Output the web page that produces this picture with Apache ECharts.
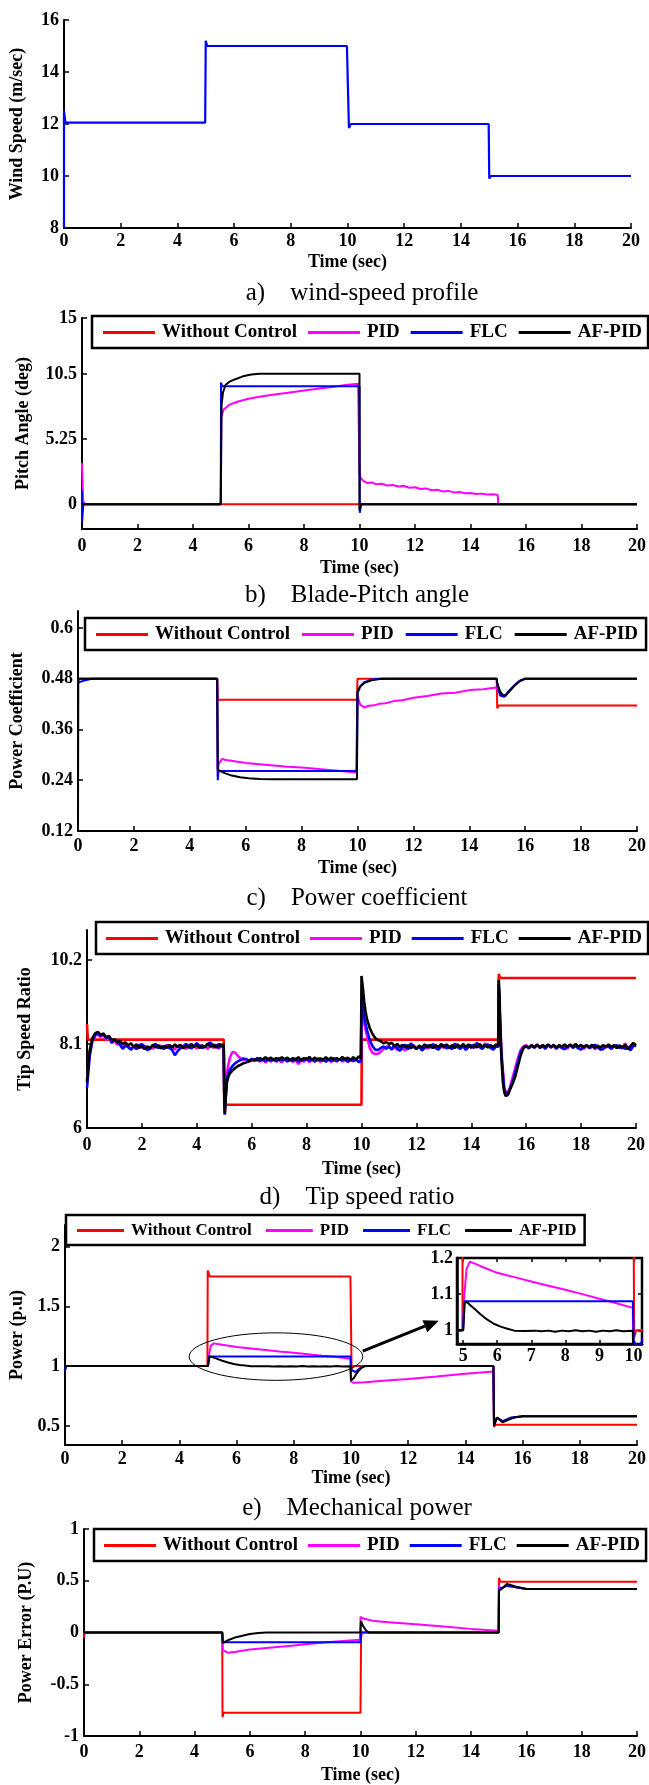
<!DOCTYPE html>
<html><head><meta charset="utf-8">
<script src="https://cdn.jsdelivr.net/npm/echarts@6/dist/echarts.min.js"></script>
<style>html,body{margin:0;padding:0;background:#fff}#c{width:649px;height:1785px}</style>
</head><body><div id="c"></div>
<script>
// ---------- DATA ----------
const seriesNames = ['Without Control', 'PID', 'FLC', 'AF-PID'];
const xTicks = [0, 2, 4, 6, 8, 10, 12, 14, 16, 18, 20];

// a) wind speed profile
const windTicks = [8, 10, 12, 14, 16];
const windSpeed = [[0,8],[0,12.5],[0.05,12.05],[4.98,12.05],[5,15.2],[5.05,15],[9.98,15],[10.05,11.85],[10.12,12],[14.98,12],[15,9.9],[15.05,10],[20,10]];

// b) pitch angle
const pitchTicks = [0, 5.25, 10.5, 15];
const pitchWoc = [[0,0],[20,0]];
const pitchPid = [[0,3.3],[0.04,0.3],[0.1,0],[5,0],[5.02,7.0],[5.1,7.6],[5.3,8.0],[5.6,8.25],[6,8.5],[6.5,8.7],[7,8.85],[7.5,9.0],[8,9.15],[8.5,9.3],[9,9.45],[9.5,9.6],[9.95,9.7],[10,2.4],[10.05,2.1],[10.15,1.85],[10.3,1.7],[10.45,1.75],[10.6,1.6],[10.8,1.65],[11,1.5],[11.2,1.55],[11.4,1.42],[11.6,1.46],[11.8,1.32],[12,1.36],[12.2,1.22],[12.4,1.27],[12.6,1.12],[12.8,1.16],[13,1.03],[13.2,1.07],[13.4,0.95],[13.6,0.98],[13.8,0.88],[14,0.9],[14.2,0.82],[14.4,0.85],[14.6,0.78],[14.8,0.8],[14.98,0.75],[15,0],[20,0]];
const pitchFlc = [[0,1.1],[0,-1.5],[0.05,0],[5,0],[5.01,9.8],[5.05,9.5],[10,9.5],[10.01,-0.7],[10.06,0],[20,0]];
const pitchAf = [[0,0],[5,0],[5.03,8.0],[5.08,9.0],[5.17,9.6],[5.3,9.85],[5.5,10.05],[5.8,10.3],[6.1,10.45],[6.4,10.5],[10,10.5],[10,-0.5],[10.05,0],[20,0]];

// c) power coefficient
const cpTicks = [0.12, 0.24, 0.36, 0.48, 0.6];
const cpWoc = [[0,0.48],[4.98,0.48],[5,0.43],[9.98,0.43],[10,0.48],[14.98,0.48],[15,0.41],[15.05,0.4165],[20,0.4165]];
const cpPid = [[0,0.47],[0.05,0.48],[4.98,0.48],[5,0.25],[5.03,0.278],[5.15,0.29],[5.3,0.288],[5.6,0.285],[6,0.281],[6.5,0.278],[7,0.275],[7.5,0.272],[8,0.27],[8.5,0.267],[9,0.264],[9.5,0.261],[9.95,0.258],[10,0.44],[10.1,0.418],[10.25,0.412],[10.4,0.416],[10.6,0.417],[10.8,0.421],[11,0.422],[11.3,0.427],[11.6,0.429],[12,0.435],[12.5,0.439],[13,0.445],[13.5,0.447],[14,0.453],[14.5,0.455],[14.95,0.459],[15,0.46],[15.1,0.445],[15.3,0.44],[15.5,0.455],[15.7,0.47],[16,0.48],[20,0.48]];
const cpFlc = [[0,0.47],[0.1,0.473],[0.3,0.477],[0.5,0.48],[4.98,0.48],[5,0.24],[5.03,0.262],[9.98,0.262],[10,0.445],[10.1,0.462],[10.25,0.472],[10.5,0.478],[10.8,0.48],[14.98,0.48],[15,0.465],[15.1,0.44],[15.25,0.437],[15.4,0.45],[15.6,0.464],[15.8,0.475],[16,0.48],[20,0.48]];
const cpAf = [[0,0.12],[0.01,0.48],[4.98,0.48],[5,0.265],[5.05,0.263],[5.2,0.258],[5.5,0.251],[5.8,0.247],[6.1,0.2445],[6.5,0.243],[7,0.2425],[9.98,0.2425],[10,0.45],[10.1,0.462],[10.25,0.47],[10.5,0.476],[10.8,0.479],[11,0.48],[14.98,0.48],[15,0.47],[15.1,0.45],[15.2,0.44],[15.3,0.44],[15.4,0.448],[15.6,0.462],[15.8,0.474],[16,0.48],[20,0.48]];

// d) tip speed ratio
const tsrTicks = [6, 8.1, 10.2];
const tsrWoc = [[0,8.6],[0.03,8.21],[4.98,8.21],[5,6.58],[10,6.58],[10.01,8.21],[14.98,8.21],[15,9.85],[15.05,9.75],[20,9.75]];
const tsrPid = [[0,7.2],[0.1,7.9],[0.2,8.2],[0.35,8.35],[0.5,8.28],[0.6,8.33],[0.7,8.2],[0.8,8.26],[0.9,8.12],[1.0,8.2],[1.1,8.08],[1.2,8.15],[1.3,8.0],[1.4,8.1],[1.5,8.06],[1.6,7.96],[1.7,8.04],[1.8,7.98],[1.9,8.09],[2.0,8.0],[2.1,8.06],[2.2,7.96],[2.3,8.03],[2.4,7.98],[2.5,8.1],[2.6,8.0],[2.7,8.06],[2.8,7.97],[2.9,8.08],[3.0,8.0],[3.1,8.05],[3.2,7.96],[3.3,8.07],[3.4,8.0],[3.5,8.06],[3.6,7.97],[3.7,8.1],[3.8,8.01],[3.9,8.06],[4.0,7.98],[4.1,8.08],[4.2,8.0],[4.3,8.05],[4.4,7.97],[4.5,8.1],[4.6,8.0],[4.7,8.06],[4.8,7.98],[4.9,8.07],[4.98,8.03],
 [5.0,6.9],[5.02,6.4],[5.05,6.9],[5.1,7.4],[5.2,7.75],[5.3,7.9],[5.4,7.88],[5.5,7.8],[5.6,7.74],[5.7,7.7],[5.8,7.72],[5.9,7.66],[6.0,7.72],[6.1,7.67],[6.2,7.73],[6.3,7.66],[6.4,7.71],[6.5,7.64],[6.6,7.7],[6.7,7.66],[6.8,7.73],[6.9,7.66],[7.0,7.7],[7.1,7.64],[7.2,7.72],[7.3,7.67],[7.4,7.71],[7.5,7.65],[7.6,7.7],[7.7,7.6],[7.8,7.68],[7.9,7.66],[8.0,7.72],[8.1,7.65],[8.2,7.7],[8.3,7.66],[8.4,7.73],[8.5,7.65],[8.6,7.7],[8.7,7.67],[8.8,7.72],[8.9,7.65],[9.0,7.71],[9.1,7.66],[9.2,7.73],[9.3,7.66],[9.4,7.7],[9.5,7.65],[9.6,7.72],[9.7,7.67],[9.8,7.7],[9.9,7.66],[9.98,7.7],
 [10.0,9.0],[10.05,8.85],[10.1,8.6],[10.2,8.3],[10.3,8.0],[10.4,7.88],[10.5,7.85],[10.6,7.86],[10.7,7.9],[10.8,7.98],[10.9,8.03],[11.0,8.05],[11.1,7.97],[11.2,8.03],[11.3,7.95],[11.4,8.06],[11.5,7.98],[11.6,7.94],[11.7,8.04],[11.8,7.99],[11.9,8.07],[12.0,7.97],[12.1,8.05],[12.2,7.99],[12.3,8.08],[12.4,7.98],[12.5,8.05],[12.6,8.0],[12.7,8.09],[12.8,7.98],[12.9,8.06],[13.0,8.0],[13.1,8.08],[13.2,7.99],[13.3,8.06],[13.4,8.01],[13.5,8.1],[13.6,8.0],[13.7,8.07],[13.8,7.99],[13.9,8.06],[14.0,8.0],[14.1,8.09],[14.2,8.01],[14.3,8.07],[14.4,8.0],[14.5,8.12],[14.6,8.02],[14.7,8.07],[14.8,7.99],[14.9,8.06],[14.98,8.02],
 [15.0,9.5],[15.05,8.7],[15.1,7.9],[15.2,7.0],[15.3,6.85],[15.4,7.0],[15.5,7.25],[15.6,7.5],[15.7,7.75],[15.8,7.95],[15.9,8.04],[16.0,8.07],[16.1,8.01],[16.2,8.08],[16.3,8.0],[16.4,8.09],[16.5,8.02],[16.6,8.07],[16.7,7.99],[16.8,8.08],[16.9,8.01],[17.0,8.06],[17.1,7.98],[17.2,8.07],[17.3,8.0],[17.4,8.05],[17.5,7.98],[17.6,8.09],[17.7,8.02],[17.8,8.07],[17.9,8.0],[18.0,8.06],[18.1,7.98],[18.2,8.05],[18.3,8.0],[18.4,8.08],[18.5,7.97],[18.6,8.03],[18.7,7.98],[18.8,8.06],[18.9,8.01],[19.0,8.05],[19.1,7.99],[19.2,8.08],[19.3,8.0],[19.4,8.06],[19.5,7.98],[19.6,8.12],[19.7,8.0],[19.8,8.05],[19.9,8.08],[20.0,8.1]];
const tsrFlc = [[0,7.0],[0.1,7.8],[0.2,8.2],[0.35,8.38],[0.5,8.3],[0.6,8.36],[0.7,8.24],[0.8,8.28],[0.9,8.14],[1.0,8.2],[1.1,8.18],[1.2,8.08],[1.3,7.98],[1.4,8.06],[1.5,8.02],[1.6,7.96],[1.7,8.05],[1.8,7.97],[1.9,8.06],[2.0,8.1],[2.1,8.02],[2.2,7.95],[2.3,7.98],[2.4,8.07],[2.5,8.1],[2.6,8.0],[2.7,8.03],[2.8,7.98],[2.9,8.06],[3.0,8.0],[3.1,7.95],[3.2,7.82],[3.3,7.92],[3.4,7.99],[3.5,8.03],[3.6,8.1],[3.7,8.04],[3.8,7.99],[3.9,8.05],[4.0,8.12],[4.1,8.05],[4.2,8.0],[4.3,8.03],[4.4,8.1],[4.5,8.14],[4.6,8.03],[4.7,8.08],[4.8,8.01],[4.9,8.1],[4.98,8.02],
 [5.0,6.8],[5.02,6.33],[5.05,6.8],[5.1,7.25],[5.2,7.45],[5.3,7.55],[5.4,7.62],[5.5,7.67],[5.6,7.7],[5.7,7.74],[5.8,7.72],[5.9,7.68],[6.0,7.73],[6.1,7.69],[6.2,7.75],[6.3,7.68],[6.4,7.72],[6.5,7.67],[6.6,7.74],[6.7,7.68],[6.8,7.73],[6.9,7.67],[7.0,7.75],[7.1,7.69],[7.2,7.73],[7.3,7.66],[7.4,7.72],[7.5,7.68],[7.6,7.74],[7.7,7.66],[7.8,7.73],[7.9,7.69],[8.0,7.75],[8.1,7.68],[8.2,7.72],[8.3,7.66],[8.4,7.74],[8.5,7.69],[8.6,7.73],[8.7,7.66],[8.8,7.71],[8.9,7.68],[9.0,7.75],[9.1,7.67],[9.2,7.72],[9.3,7.69],[9.4,7.74],[9.5,7.66],[9.6,7.7],[9.7,7.68],[9.8,7.72],[9.9,7.65],[9.98,7.66],
 [10.0,9.2],[10.05,9.0],[10.1,8.75],[10.2,8.45],[10.3,8.2],[10.4,8.05],[10.5,7.96],[10.6,7.95],[10.7,8.0],[10.8,8.04],[10.9,7.98],[11.0,8.04],[11.1,7.96],[11.2,8.07],[11.3,8.0],[11.4,7.93],[11.5,8.03],[11.6,8.08],[11.7,7.97],[11.8,8.12],[11.9,8.02],[12.0,7.98],[12.1,8.04],[12.2,7.94],[12.3,8.0],[12.4,8.07],[12.5,8.01],[12.6,8.1],[12.7,8.0],[12.8,7.96],[12.9,8.04],[13.0,8.07],[13.1,7.99],[13.2,8.03],[13.3,7.97],[13.4,8.11],[13.5,8.02],[13.6,7.98],[13.7,8.05],[13.8,7.95],[13.9,8.03],[14.0,8.07],[14.1,8.0],[14.2,8.13],[14.3,8.02],[14.4,7.98],[14.5,8.05],[14.6,8.09],[14.7,8.0],[14.8,7.96],[14.9,8.04],[14.98,8.03],
 [15.0,9.6],[15.05,8.6],[15.1,7.8],[15.2,6.95],[15.3,6.8],[15.4,6.95],[15.5,7.15],[15.6,7.4],[15.7,7.65],[15.8,7.9],[15.9,8.02],[16.0,8.05],[16.1,7.99],[16.2,8.06],[16.3,8.01],[16.4,8.08],[16.5,8.0],[16.6,8.05],[16.7,7.98],[16.8,8.08],[16.9,8.02],[17.0,8.06],[17.1,7.99],[17.2,8.05],[17.3,8.0],[17.4,7.97],[17.5,8.04],[17.6,8.08],[17.7,8.0],[17.8,8.05],[17.9,7.99],[18.0,7.96],[18.1,8.04],[18.2,8.07],[18.3,8.0],[18.4,8.03],[18.5,8.08],[18.6,8.02],[18.7,7.96],[18.8,7.97],[18.9,8.05],[19.0,8.03],[19.1,7.98],[19.2,8.04],[19.3,8.07],[19.4,8.0],[19.5,8.04],[19.6,7.98],[19.7,8.02],[19.8,7.94],[19.9,8.05],[20.0,8.06]];
const tsrAf = [[0,7.14],[0.05,7.6],[0.1,7.95],[0.2,8.25],[0.3,8.37],[0.4,8.4],[0.5,8.33],[0.6,8.36],[0.7,8.27],[0.8,8.3],[0.9,8.2],[1.0,8.22],[1.1,8.14],[1.2,8.18],[1.3,8.1],[1.4,8.14],[1.5,8.06],[1.6,8.12],[1.7,8.03],[1.8,8.09],[1.9,8.0],[2.0,8.06],[2.1,7.97],[2.2,8.04],[2.3,8.0],[2.4,8.08],[2.5,8.01],[2.6,8.07],[2.7,7.99],[2.8,8.05],[2.9,8.0],[3.0,8.08],[3.1,8.01],[3.2,8.09],[3.3,8.02],[3.4,8.08],[3.5,7.99],[3.6,8.06],[3.7,8.01],[3.8,8.1],[3.9,8.03],[4.0,8.08],[4.1,8.0],[4.2,8.07],[4.3,8.02],[4.4,8.11],[4.5,8.03],[4.6,8.09],[4.7,8.01],[4.8,8.1],[4.9,8.04],[4.98,8.08],
 [5.0,6.9],[5.02,6.35],[5.05,6.7],[5.1,7.15],[5.15,7.28],[5.2,7.36],[5.3,7.44],[5.4,7.5],[5.5,7.55],[5.6,7.58],[5.7,7.62],[5.8,7.64],[5.9,7.67],[6.0,7.69],[6.1,7.72],[6.2,7.69],[6.3,7.75],[6.4,7.71],[6.5,7.77],[6.6,7.7],[6.7,7.76],[6.8,7.69],[6.9,7.75],[7.0,7.7],[7.1,7.77],[7.2,7.71],[7.3,7.76],[7.4,7.69],[7.5,7.75],[7.6,7.7],[7.7,7.77],[7.8,7.69],[7.9,7.75],[8.0,7.71],[8.1,7.78],[8.2,7.7],[8.3,7.76],[8.4,7.69],[8.5,7.74],[8.6,7.69],[8.7,7.77],[8.8,7.71],[8.9,7.76],[9.0,7.69],[9.1,7.75],[9.2,7.7],[9.3,7.78],[9.4,7.71],[9.5,7.76],[9.6,7.69],[9.7,7.77],[9.8,7.71],[9.9,7.79],[9.98,7.74],
 [10.0,9.8],[10.05,9.5],[10.1,9.15],[10.15,8.9],[10.2,8.72],[10.3,8.5],[10.4,8.35],[10.5,8.25],[10.6,8.2],[10.7,8.17],[10.8,8.12],[10.9,8.15],[11.0,8.1],[11.1,8.13],[11.2,8.05],[11.3,8.1],[11.4,8.03],[11.5,8.08],[11.6,8.01],[11.7,8.07],[11.8,8.0],[11.9,8.06],[12.0,7.98],[12.1,8.06],[12.2,8.01],[12.3,8.09],[12.4,8.02],[12.5,8.08],[12.6,8.0],[12.7,8.07],[12.8,8.02],[12.9,8.1],[13.0,8.03],[13.1,8.09],[13.2,8.01],[13.3,8.07],[13.4,8.0],[13.5,8.08],[13.6,8.02],[13.7,8.1],[13.8,8.03],[13.9,8.09],[14.0,8.01],[14.1,8.07],[14.2,8.02],[14.3,8.1],[14.4,8.03],[14.5,8.08],[14.6,8.01],[14.7,8.07],[14.8,8.02],[14.9,8.09],[14.98,8.05],
 [15.0,9.7],[15.03,9.3],[15.06,8.4],[15.1,7.7],[15.15,7.15],[15.2,6.9],[15.25,6.8],[15.3,6.78],[15.35,6.85],[15.4,6.95],[15.5,7.1],[15.6,7.28],[15.7,7.55],[15.8,7.82],[15.9,8.0],[16.0,8.04],[16.1,8.01],[16.2,8.07],[16.3,8.02],[16.4,8.08],[16.5,8.01],[16.6,8.07],[16.7,8.03],[16.8,8.09],[16.9,8.02],[17.0,8.08],[17.1,8.01],[17.2,8.07],[17.3,8.03],[17.4,8.09],[17.5,8.02],[17.6,8.08],[17.7,8.04],[17.8,8.1],[17.9,8.03],[18.0,8.08],[18.1,8.01],[18.2,8.07],[18.3,8.02],[18.4,8.08],[18.5,8.0],[18.6,8.06],[18.7,8.01],[18.8,8.07],[18.9,8.03],[19.0,8.09],[19.1,8.02],[19.2,8.07],[19.3,8.0],[19.4,8.06],[19.5,8.01],[19.6,8.08],[19.7,7.97],[19.8,8.04],[19.9,8.13],[20.0,8.06]];

// e) mechanical power
const powTicks = [0.5, 1, 1.5, 2];
const powWoc = [[0,1],[4.98,1],[4.99,1.8],[5.06,1.75],[9.98,1.75],[10.02,0.98],[10.08,1.0],[14.98,1.0],[15,0.49],[15.05,0.51],[20,0.51]];
const powPid = [[0,1],[5,1],[5.02,1.08],[5.1,1.17],[5.2,1.19],[5.5,1.178],[6,1.159],[6.5,1.147],[7,1.135],[7.5,1.123],[8,1.112],[8.5,1.1],[9,1.087],[9.5,1.075],[9.98,1.062],[10,0.87],[10.1,0.86],[10.5,0.865],[11,0.875],[12,0.892],[13,0.912],[14,0.935],[14.98,0.955],[15,0.5],[15.1,0.57],[15.3,0.54],[15.6,0.565],[16,0.58],[20,0.58]];
const powFlc = [[0,0.96],[0.05,1],[5,1],[5.03,1.08],[9.98,1.08],[10.01,0.97],[10.15,0.95],[10.3,0.98],[10.45,1.0],[14.98,1.0],[15,0.5],[15.1,0.57],[15.3,0.54],[15.6,0.57],[16,0.58],[20,0.58]];
const powAf = [[0,1],[5,1],[5.05,1.08],[5.15,1.075],[5.3,1.062],[5.5,1.045],[5.7,1.03],[5.9,1.018],[6.1,1.01],[6.3,1.004],[6.5,0.999],[6.8,0.998],[7.1,0.999],[7.3,0.997],[7.5,0.999],[7.7,0.996],[7.9,0.999],[8.1,0.997],[8.3,1.0],[8.5,0.997],[8.7,0.999],[8.9,0.996],[9.1,0.999],[9.3,0.997],[9.5,1.0],[9.7,0.997],[9.98,0.999],[10,0.88],[10.1,0.9],[10.2,0.94],[10.3,0.97],[10.4,0.99],[10.5,1.0],[14.98,1.0],[15,0.5],[15.1,0.57],[15.2,0.55],[15.3,0.53],[15.5,0.55],[15.7,0.57],[16,0.58],[20,0.58]];
const insetXTicks = [5, 6, 7, 8, 9, 10];
const insetYTicks = [1, 1.1, 1.2];

// f) power error
const errTicks = [-1, -0.5, 0, 0.5, 1];
const errWoc = [[0,-0.05],[0.02,0],[5,0],[5.01,-0.82],[5.05,-0.775],[10,-0.775],[10.02,-0.05],[10.05,0],[15,0],[15.01,0.53],[15.05,0.49],[20,0.49]];
const errPid = [[0,0],[5,0],[5.02,-0.17],[5.2,-0.195],[5.5,-0.185],[6,-0.165],[7,-0.14],[7.5,-0.127],[8,-0.113],[9,-0.09],[9.98,-0.07],[10,0.15],[10.1,0.135],[10.5,0.11],[11,0.1],[12,0.079],[13,0.058],[14,0.035],[14.98,0.018],[15,0.45],[15.1,0.42],[15.3,0.46],[15.6,0.44],[16,0.42],[20,0.42]];
const errFlc = [[0,0],[5,0],[5.02,-0.095],[10,-0.095],[10.02,0],[15,0],[15.01,0.42],[15.3,0.45],[16,0.42],[20,0.42]];
const errAf = [[0,0],[5,0],[5.02,-0.1],[5.2,-0.075],[5.5,-0.045],[6,-0.015],[6.3,-0.005],[6.6,0],[10,0],[10.02,0.11],[10.1,0.06],[10.2,0.02],[10.3,0],[15,0],[15.01,0.4],[15.1,0.42],[15.3,0.47],[15.6,0.445],[16,0.42],[20,0.42]];

// ---------- CHART ----------
const FONT = '"Liberation Serif", "Times New Roman", Times, serif';
const COLORS = ['#ff0000', '#ff00ff', '#0000ff', '#000000'];
const chart = echarts.init(document.getElementById('c'), null, {renderer: 'canvas'});

const grids = [
  {left: 62, top: 20, width: 569, height: 208},
  {left: 82, top: 318, width: 560, height: 211},
  {left: 77, top: 611, width: 562, height: 220},
  {left: 87, top: 930, width: 549, height: 198},
  {left: 65, top: 1225, width: 580, height: 220},
  {left: 84, top: 1529, width: 556, height: 209},
  {left: 457, top: 1258, width: 185, height: 86, show: true, borderColor: '#000', borderWidth: 2.5, backgroundColor: '#fff'}
];

const tickFont = {fontFamily: FONT, fontWeight: 'bold', fontSize: 18, color: '#000'};
const nameFont = {fontFamily: FONT, fontWeight: 'bold', fontSize: 18, color: '#000'};

function xAx(gi, margin, nameGap) {
  return {type: 'value', gridIndex: gi, min: 0, max: 20, interval: 2,
    name: 'Time (sec)', nameLocation: 'middle', nameGap: nameGap, nameTextStyle: nameFont,
    axisLine: {onZero: false, lineStyle: {color: '#000', width: 2}},
    axisTick: {inside: true, length: 5, lineStyle: {color: '#000', width: 1.5}},
    axisLabel: Object.assign({margin: margin, customValues: xTicks}, tickFont),
    splitLine: {show: false}};
}
function yAx(gi, min, max, ticks, name, nameGap) {
  return {type: 'value', gridIndex: gi, min: min, max: max,
    name: name, nameLocation: 'middle', nameGap: nameGap, nameTextStyle: nameFont,
    axisLine: {onZero: false, lineStyle: {color: '#000', width: 2}},
    axisTick: {inside: true, length: 5, customValues: ticks, lineStyle: {color: '#000', width: 1.5}},
    axisLabel: Object.assign({margin: 5, customValues: ticks}, tickFont),
    splitLine: {show: false}};
}

const xAxes = [
  xAx(0, 4, 25), xAx(1, 8, 30), xAx(2, 6, 28), xAx(3, 8, 32), xAx(4, 5, 23), xAx(5, 7, 30),
  {type: 'value', gridIndex: 6, min: 4.82, max: 10.25,
    axisLine: {onZero: false, lineStyle: {color: '#000', width: 2.5}},
    axisTick: {inside: true, length: 4, customValues: insetXTicks, lineStyle: {color: '#000', width: 1.5}},
    axisLabel: Object.assign({margin: 3, customValues: insetXTicks}, tickFont),
    splitLine: {show: false}},
  {type: 'value', gridIndex: 6, position: 'top', min: 4.82, max: 10.25,
    axisLine: {show: false}, axisLabel: {show: false},
    axisTick: {inside: true, length: 4, customValues: insetXTicks, lineStyle: {color: '#000', width: 1.5}},
    splitLine: {show: false}}
];
const yAxes = [
  yAx(0, 8, 16, windTicks, 'Wind Speed (m/sec)', 38),
  yAx(1, -2, 15, pitchTicks, 'Pitch Angle (deg)', 50),
  yAx(2, 0.12, 0.64, cpTicks, 'Power Coefficient', 52),
  yAx(3, 6, 10.95, tsrTicks, 'Tip Speed Ratio', 53),
  yAx(4, 0.34, 2.18, powTicks, 'Power (p.u)', 39),
  yAx(5, -1, 1, errTicks, 'Power Error (P.U)', 49),
  {type: 'value', gridIndex: 6, min: 0.962, max: 1.2,
    axisLine: {onZero: false, lineStyle: {color: '#000', width: 2.5}},
    axisTick: {inside: true, length: 4, customValues: insetYTicks, lineStyle: {color: '#000', width: 1.5}},
    axisLabel: Object.assign({margin: 4, customValues: insetYTicks}, tickFont),
    splitLine: {show: false}},
  {type: 'value', gridIndex: 6, position: 'right', min: 0.962, max: 1.2,
    axisLine: {show: false}, axisLabel: {show: false},
    axisTick: {inside: true, length: 4, customValues: insetYTicks, lineStyle: {color: '#000', width: 1.5}},
    splitLine: {show: false}}
];

function ser(name, xi, yi, data, color, w) {
  return {type: 'line', name: name, xAxisIndex: xi, yAxisIndex: yi, data: data,
    showSymbol: false, symbol: 'none', animation: false, clip: true,
    lineStyle: {color: color, width: w || 2}, itemStyle: {color: color}};
}
const series = [ser('Wind Speed', 0, 0, windSpeed, '#0000ff', 2.2)];
const groups = [
  [1, [pitchWoc, pitchPid, pitchFlc, pitchAf]],
  [2, [cpWoc, cpPid, cpFlc, cpAf]],
  [3, [tsrWoc, tsrPid, tsrFlc, tsrAf]],
  [4, [powWoc, powPid, powFlc, powAf]],
  [5, [errWoc, errPid, errFlc, errAf]],
  [6, [powWoc, powPid, powFlc, powAf]]
];
groups.forEach(function (g) {
  g[1].forEach(function (d, k) {
    series.push(ser(seriesNames[k], g[0], g[0], d, COLORS[k], g[0] === 3 ? 2.6 : 2));
  });
});

function leg(left, top, fs, gap, iw, pad) {
  return {left: left, top: top, width: 640, orient: 'horizontal', data: seriesNames, selectedMode: false,
    icon: 'rect', itemWidth: iw, itemHeight: 3, itemGap: gap, padding: pad,
    borderColor: '#000', borderWidth: 2.5, borderRadius: 0, backgroundColor: '#fff',
    textStyle: {fontFamily: FONT, fontWeight: 'bold', fontSize: fs, color: '#000', padding: [0, 0, 0, 2]}};
}
const legends = [
  leg(92, 316, 19, 11, 52, [7, 6, 6, 11]),
  leg(85, 618, 19, 12, 52, [7, 8, 6, 11]),
  leg(96, 922, 19, 10, 52, [7, 6, 6, 10]),
  leg(66, 1215, 17, 14, 47, [7, 8, 6, 11]),
  leg(94, 1529, 19, 10, 52, [7, 6, 6, 10])
];

chart.setOption({
  backgroundColor: '#fff',
  animation: false,
  grid: grids,
  xAxis: xAxes,
  yAxis: yAxes,
  legend: legends,
  series: series
});

// annotations (ellipse + arrow) placed from data coordinates of panel e
const px = function (p) { return chart.convertToPixel({gridIndex: 4}, p); };
const eL = px([4.34, 1.075]), eR = px([10.41, 1.075]), eT = px([7.4, 1.278]), eB = px([7.4, 0.881]);
const aS = px([10.41, 1.125]), aE = px([13.07, 1.38]);
const ang = Math.atan2(aE[1] - aS[1], aE[0] - aS[0]);
const hl = 15, hw = 6.5;
const base = [aE[0] - hl * Math.cos(ang), aE[1] - hl * Math.sin(ang)];
const head = [aE, [base[0] + hw * Math.sin(ang), base[1] - hw * Math.cos(ang)], [base[0] - hw * Math.sin(ang), base[1] + hw * Math.cos(ang)]];

const capStyle = function (txt, x, y) {
  return {type: 'text', x: x, y: y, z: 10,
    style: {text: txt, fontFamily: FONT, fontSize: 25, fill: '#000', align: 'center', verticalAlign: 'middle'}};
};
chart.setOption({
  graphic: [
    {type: 'ellipse', z: 10, shape: {cx: (eL[0] + eR[0]) / 2, cy: (eT[1] + eB[1]) / 2, rx: (eR[0] - eL[0]) / 2, ry: (eB[1] - eT[1]) / 2},
      style: {fill: 'none', stroke: '#000', lineWidth: 1}},
    {type: 'line', z: 10, shape: {x1: aS[0], y1: aS[1], x2: base[0], y2: base[1]}, style: {stroke: '#000', lineWidth: 3}},
    {type: 'polygon', z: 10, shape: {points: head}, style: {fill: '#000'}},
    capStyle('a)    wind-speed profile', 362, 293),
    capStyle('b)    Blade-Pitch angle', 357, 595),
    capStyle('c)    Power coefficient', 357, 898),
    capStyle('d)    Tip speed ratio', 357, 1197),
    capStyle('e)    Mechanical power', 357, 1508)
  ]
});
</script></body></html>
